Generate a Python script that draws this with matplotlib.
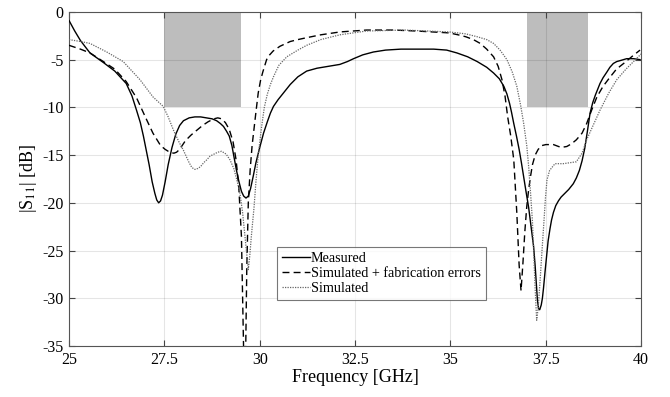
import matplotlib
matplotlib.use("Agg")
import matplotlib.pyplot as plt
from matplotlib.patches import Rectangle

# Measured S11
freq_meas = [25.0, 25.15, 25.3, 25.55, 25.9, 26.2, 26.5, 26.65, 26.77, 26.87, 26.95,
             27.03, 27.1, 27.18, 27.25, 27.3, 27.35, 27.4, 27.45, 27.52, 27.6, 27.7,
             27.8, 27.9, 28.0, 28.15, 28.3, 28.45, 28.6, 28.75, 28.87, 28.97, 29.05,
             29.13, 29.2, 29.27, 29.33, 29.39, 29.45, 29.52, 29.58, 29.64, 29.7, 29.76,
             29.83, 29.9, 30.0, 30.1, 30.2, 30.28, 30.36, 30.48, 30.6, 30.8, 31.0,
             31.23, 31.5, 31.8, 32.1, 32.3, 32.46, 32.7, 32.98, 33.3, 33.7, 34.1,
             34.56, 34.9, 35.17, 35.45, 35.7, 35.95, 36.13, 36.28, 36.4, 36.48, 36.55,
             36.6, 36.66, 36.73, 36.8, 36.86, 36.92, 36.98, 37.05, 37.11, 37.18, 37.22,
             37.25, 37.28, 37.31, 37.34, 37.38, 37.41, 37.44, 37.48, 37.52, 37.56,
             37.61, 37.65, 37.7, 37.76, 37.83, 37.9, 38.0, 38.1, 38.22, 38.3, 38.38,
             38.45, 38.52, 38.59, 38.66, 38.73, 38.8, 38.86, 38.92, 39.0, 39.1, 39.18,
             39.27, 39.36, 39.45, 39.62, 39.8, 39.97]
s11_meas = [-0.9, -2.0, -3.0, -4.3, -5.3, -6.2, -7.5, -8.8, -10.3, -11.6, -13.0,
            -14.6, -16.0, -17.8, -19.0, -19.7, -20.0, -19.8, -19.2, -17.8, -16.0, -14.2,
            -12.8, -11.9, -11.4, -11.1, -11.0, -11.0, -11.1, -11.2, -11.4, -11.7, -12.0,
            -12.5, -13.0, -14.0, -15.3, -16.6, -17.7, -18.8, -19.3, -19.5, -19.3, -18.5,
            -17.2, -15.8, -14.2, -12.7, -11.5, -10.6, -9.9, -9.2, -8.6, -7.6, -6.8,
            -6.2, -5.9, -5.7, -5.5, -5.2, -4.9, -4.5, -4.2, -4.0, -3.9, -3.9,
            -3.9, -4.0, -4.3, -4.7, -5.2, -5.8, -6.4, -7.0, -7.8, -8.6, -9.6,
            -10.5, -11.7, -13.0, -14.4, -15.8, -17.3, -18.8, -20.5, -22.4, -24.6, -26.6,
            -28.4, -30.2, -31.1, -31.2, -30.7, -30.0, -28.9, -27.2, -25.6, -24.0,
            -22.7, -21.8, -21.0, -20.3, -19.8, -19.4, -19.0, -18.6, -18.0, -17.4, -16.6,
            -15.6, -14.3, -12.5, -10.6, -9.5, -8.7, -8.1, -7.5, -6.9, -6.3, -5.8,
            -5.4, -5.2, -5.1, -4.9, -4.9, -5.0]

# Simulated with fabrication errors
freq_fab = [25.0, 25.3, 25.55, 25.9, 26.2, 26.5, 26.77, 27.0, 27.2, 27.4, 27.52,
            27.6, 27.68, 27.75, 27.82, 27.9, 28.05, 28.2, 28.35, 28.5, 28.65, 28.8,
            28.9, 29.0, 29.1, 29.2, 29.3, 29.38, 29.45, 29.52, 29.59, 29.63, 29.66,
            29.7, 29.75, 29.8, 29.9, 29.96, 30.02, 30.08, 30.18, 30.26, 30.35, 30.53,
            30.8, 31.0, 31.23, 31.6, 32.1, 32.8, 33.5, 34.1, 34.97, 35.2, 35.4,
            35.6, 35.78, 35.95, 36.13, 36.25, 36.35, 36.43, 36.5, 36.58, 36.66, 36.74,
            36.8, 36.85, 36.9, 36.95, 37.0, 37.05, 37.1, 37.15, 37.22, 37.3, 37.4,
            37.5, 37.7, 37.9, 38.05, 38.18, 38.3, 38.45, 38.57, 38.7, 38.84, 39.0,
            39.19, 39.35, 39.54, 39.75, 39.97]
s11_fab = [-3.5, -3.9, -4.3, -5.2, -6.0, -7.3, -9.0, -11.0, -12.7, -14.0, -14.4,
           -14.6, -14.75, -14.8, -14.7, -14.4, -13.5, -12.9, -12.4, -11.9, -11.5, -11.2,
           -11.1, -11.2, -11.6, -12.3, -13.6, -15.5, -18.3, -23.5, -38.0, -36.0, -27.0,
           -20.0, -16.5, -14.0, -10.5, -8.5, -7.2, -6.3, -5.0, -4.5, -4.1, -3.6,
           -3.1, -2.9, -2.7, -2.4, -2.1, -1.9, -1.9, -2.0, -2.2, -2.4, -2.6,
           -2.9, -3.3, -3.9, -4.7, -5.7, -7.1, -8.8, -11.0, -13.0, -15.5, -21.1,
           -26.5, -29.2, -26.3, -23.0, -20.4, -18.6, -17.2, -16.0, -15.0, -14.4, -14.0,
           -13.9, -13.9, -14.2, -14.1, -13.8, -13.4, -12.7, -11.7, -10.3, -8.9, -7.8,
           -6.8, -6.0, -5.4, -4.7, -4.0]

# Simulated
freq_sim = [25.0, 25.3, 25.55, 25.99, 26.42, 26.86, 27.2, 27.47, 27.6, 27.74, 27.88,
            28.0, 28.08, 28.15, 28.22, 28.3, 28.38, 28.45, 28.53, 28.61, 28.7, 28.8,
            28.9, 29.0, 29.12, 29.22, 29.32, 29.4, 29.48, 29.55, 29.6, 29.65, 29.7,
            29.74, 29.78, 29.85, 29.9, 29.96, 30.05, 30.12, 30.2, 30.28, 30.36, 30.5,
            30.71, 31.0, 31.23, 31.6, 32.1, 32.8, 33.8, 34.97, 35.4, 35.7, 35.95,
            36.13, 36.3, 36.48, 36.62, 36.74, 36.84, 36.92, 37.0, 37.05, 37.1, 37.15,
            37.19, 37.22, 37.26, 37.3, 37.35, 37.4, 37.45, 37.49, 37.53, 37.6, 37.74,
            37.96, 38.3, 38.45, 38.57, 38.75, 38.92, 39.15, 39.36, 39.6, 39.8, 40.0]
s11_sim = [-2.9, -3.1, -3.3, -4.2, -5.2, -7.1, -8.9, -9.9, -11.0, -12.4, -13.6,
           -14.5, -15.2, -15.8, -16.3, -16.5, -16.4, -16.2, -15.8, -15.5, -15.1, -14.9,
           -14.7, -14.6, -14.9, -15.5, -16.4, -17.6, -19.0, -21.0, -23.0, -25.0, -27.0,
           -25.5, -23.5, -20.5, -17.8, -15.0, -12.0, -10.0, -8.6, -7.6, -6.8, -5.6,
           -4.7, -4.0, -3.5, -2.9, -2.4, -2.0, -1.9, -2.1, -2.3, -2.6, -2.9,
           -3.3, -4.0, -5.0, -6.3, -7.8, -9.8, -11.7, -14.0, -16.2, -19.0, -22.0,
           -26.0, -29.0, -32.3, -31.0, -28.1, -25.0, -22.0, -19.5, -17.6, -16.6, -15.9,
           -15.9, -15.7, -14.8, -13.4, -11.8, -10.3, -8.5, -7.1, -6.0, -5.2, -4.4]

# Target bands (GHz) where S11 must stay below -10 dB
band_lo = [27.5, 37.0]
band_hi = [29.5, 38.6]
band_top = 0
band_bottom = -10

x_ticks = [25, 27.5, 30, 32.5, 35, 37.5, 40]
x_tick_labels = ["25", "27.5", "30", "32.5", "35", "37.5", "40"]
y_ticks = [0, -5, -10, -15, -20, -25, -30, -35]

plt.rcParams["font.family"] = ["Liberation Serif", "DejaVu Serif"]
plt.rcParams["mathtext.fontset"] = "stix"
plt.rcParams["axes.unicode_minus"] = False

fig = plt.figure(figsize=(6.7, 3.97), dpi=100)
ax = fig.add_axes([0.103, 0.1285, 0.854, 0.8415])

for lo, hi in zip(band_lo, band_hi):
    ax.add_patch(Rectangle((lo, band_bottom), hi - lo, band_top - band_bottom,
                           facecolor="#bdbdbd", edgecolor="none", zorder=1))

ax.plot(freq_meas, s11_meas, color="black", lw=1.0, ls="-", label="Measured", zorder=3)
ax.plot(freq_fab, s11_fab, color="black", lw=1.0, ls=(0, (5, 3)),
        label="Simulated + fabrication errors", zorder=3)
ax.plot(freq_sim, s11_sim, color="#666666", lw=0.9, ls=(0, (1, 1)),
        label="Simulated", zorder=3)

ax.set_xlim(25, 40)
ax.set_ylim(-35, 0)
ax.set_xticks(x_ticks)
ax.set_xticklabels(x_tick_labels)
ax.set_yticks(y_ticks)

ax.set_axisbelow("line")
ax.grid(True, color="#000000", alpha=0.1, lw=0.8)
ax.tick_params(direction="in", top=True, right=True, labelsize=11.5,
               length=4, width=0.8, color="#444444", pad=4)
for sp in ax.spines.values():
    sp.set_color("#555555")
    sp.set_linewidth(0.8)

ax.set_xlabel("Frequency [GHz]", fontsize=13, labelpad=1)
ax.set_ylabel("|S$_{11}$| [dB]", fontsize=13, labelpad=2)

leg = ax.legend(loc="lower left", bbox_to_anchor=(0.363, 0.138), fontsize=10.2,
                frameon=True, fancybox=False, borderpad=0.35, labelspacing=0.15,
                handlelength=2.0, handletextpad=0.05, borderaxespad=0)
leg.get_frame().set_edgecolor("#555555")
leg.get_frame().set_linewidth(0.8)

fig.savefig("out.png", dpi=100)
